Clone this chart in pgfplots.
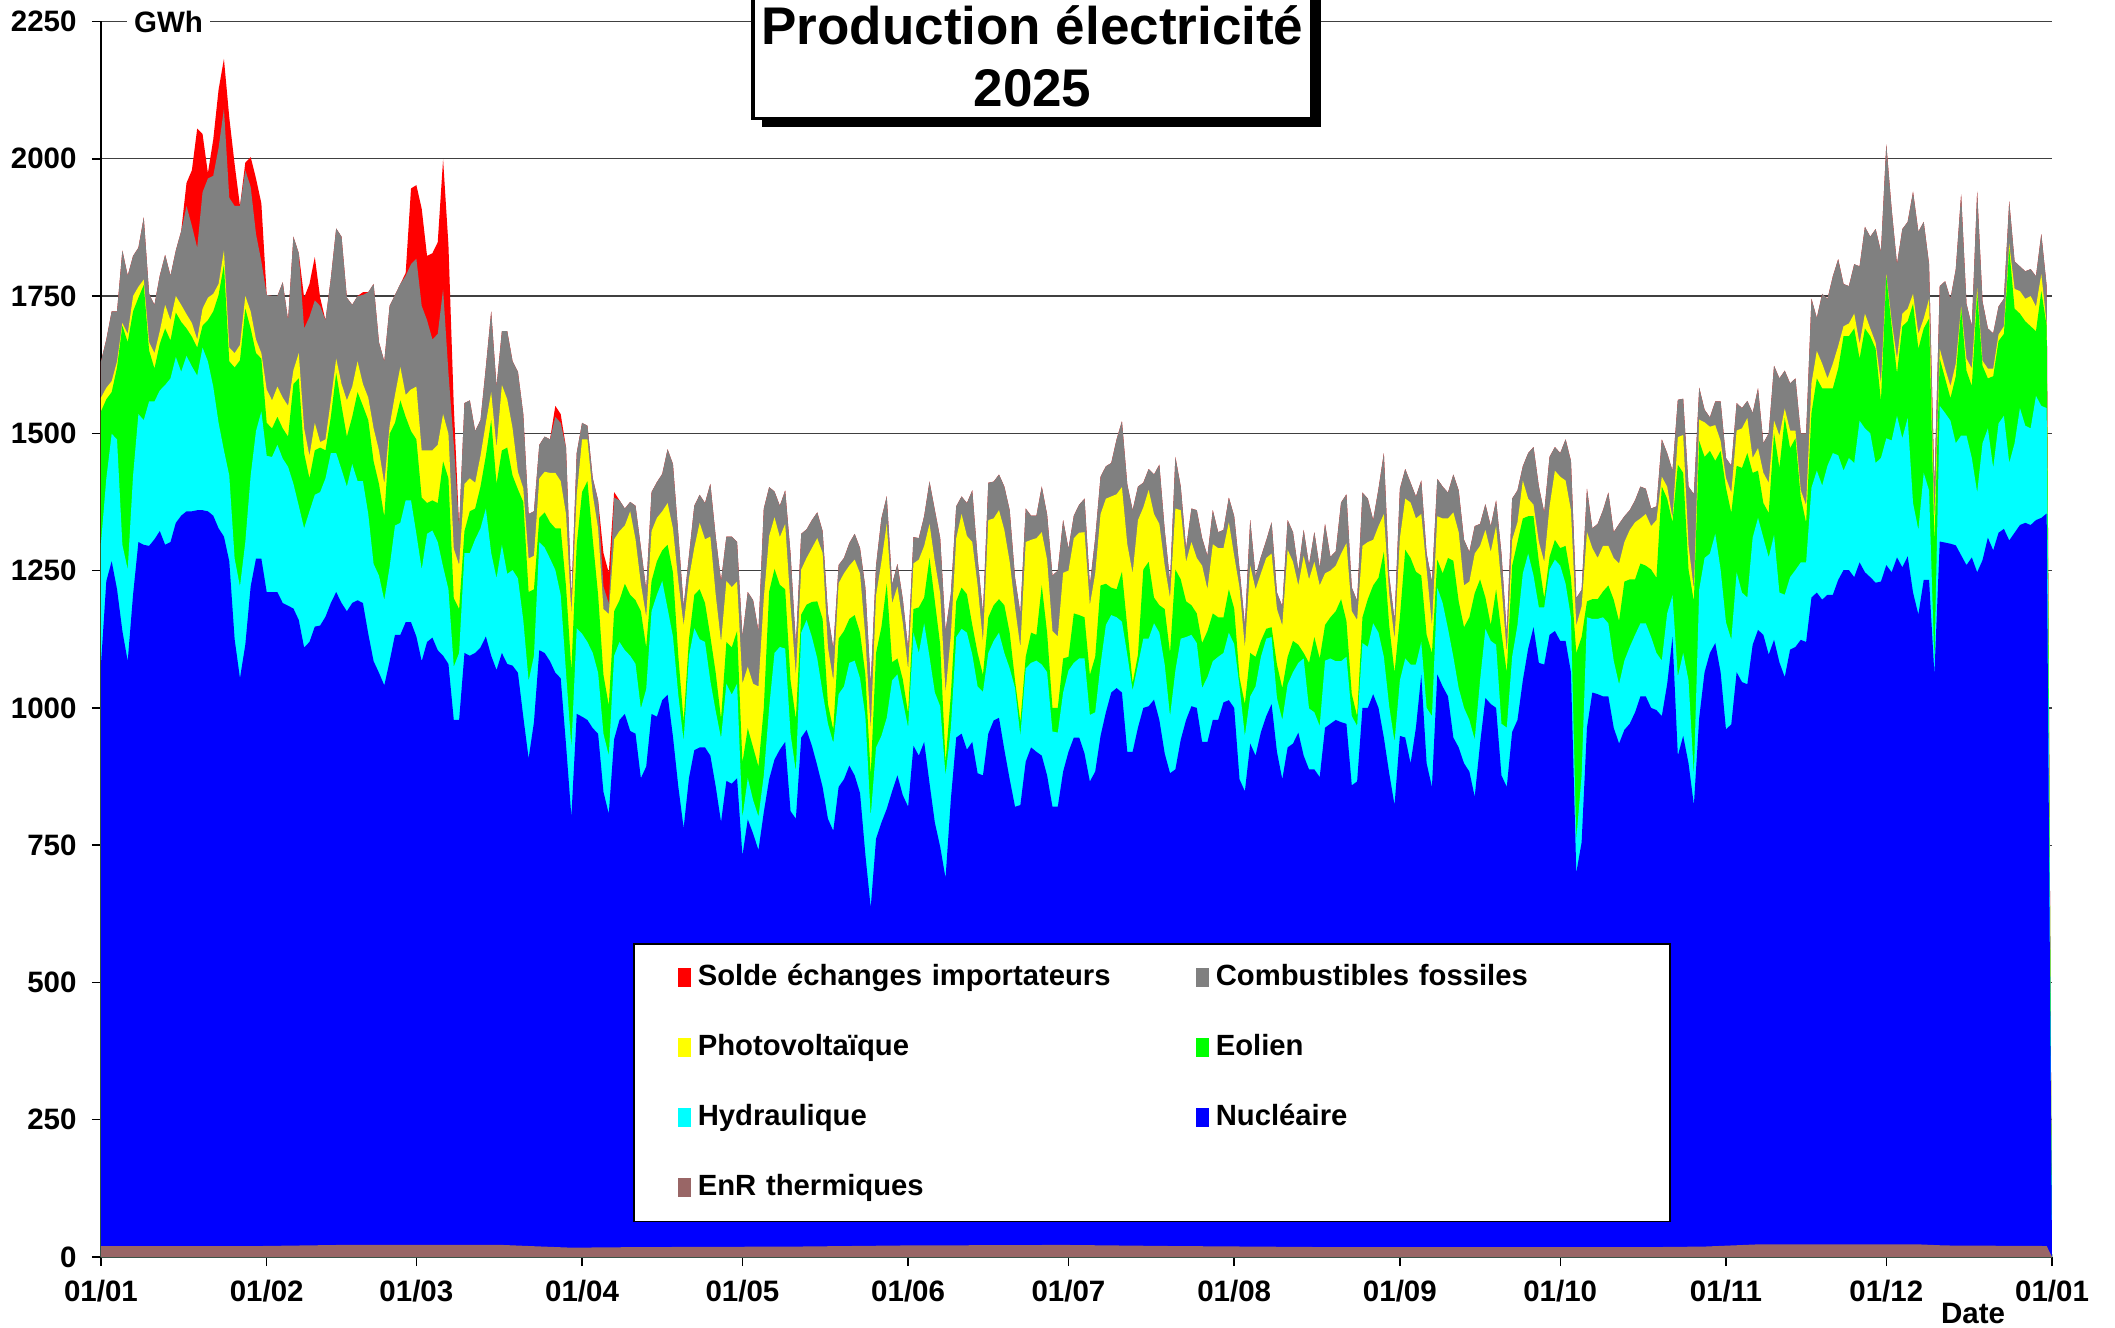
\documentclass[border=0pt]{standalone}
\usepackage{fontspec}
\setmainfont{Liberation Sans}
\usepackage{pgfplots}
\usepackage{pgfplotstable}
\pgfplotsset{compat=1.18}
\definecolor{cImp}{HTML}{FF0000}
\definecolor{cFos}{HTML}{808080}
\definecolor{cPV}{HTML}{FFFF00}
\definecolor{cEol}{HTML}{00FF00}
\definecolor{cHyd}{HTML}{00FFFF}
\definecolor{cNuc}{HTML}{0000FF}
\definecolor{cEnR}{HTML}{996666}
% cumulative tops of the stacked layers (GWh), day 0 = 01/01/2025
\pgfplotstableread{
d N H W S F I
0 1080 1300 1540 1565 1631 1631
1 1231 1418 1562 1583 1671 1671
2 1267 1499 1575 1595 1722 1722
3 1216 1489 1620 1631 1722 1722
4 1140 1297 1696 1701 1833 1833
5 1085 1252 1666 1681 1787 1787
6 1206 1423 1722 1750 1823 1823
7 1302 1535 1747 1767 1838 1838
8 1297 1524 1770 1780 1893 1893
9 1295 1558 1651 1666 1754 1754
10 1307 1558 1618 1646 1734 1734
11 1322 1578 1663 1686 1787 1787
12 1297 1588 1691 1734 1825 1825
13 1302 1600 1669 1706 1787 1787
14 1337 1639 1720 1750 1833 1833
15 1350 1612 1703 1734 1868 1868
16 1358 1641 1691 1717 1914 1956
17 1358 1622 1676 1701 1878 1979
18 1360 1605 1656 1671 1838 2055
19 1360 1656 1696 1727 1939 2045
20 1358 1631 1706 1747 1964 1974
21 1350 1585 1722 1754 1969 2035
22 1327 1519 1752 1772 2020 2126
23 1312 1469 1807 1833 2091 2182
24 1267 1423 1631 1656 1929 2075
25 1125 1272 1620 1646 1914 1990
26 1054 1221 1633 1661 1914 1914
27 1115 1302 1727 1750 1979 1993
28 1221 1423 1691 1722 1949 2003
29 1272 1504 1646 1671 1863 1964
30 1272 1540 1636 1646 1813 1919
31 1211 1459 1519 1580 1752 1752
32 1211 1457 1509 1560 1750 1750
33 1211 1479 1530 1585 1750 1750
34 1191 1454 1509 1565 1775 1775
35 1186 1439 1494 1550 1706 1706
36 1181 1408 1590 1615 1858 1858
37 1160 1368 1600 1646 1828 1828
38 1110 1327 1464 1509 1691 1747
39 1120 1358 1418 1459 1712 1772
40 1148 1388 1469 1519 1742 1821
41 1150 1393 1474 1484 1732 1747
42 1166 1418 1469 1489 1706 1706
43 1191 1464 1530 1560 1782 1782
44 1211 1464 1610 1636 1873 1873
45 1191 1434 1550 1590 1858 1858
46 1176 1403 1494 1560 1747 1747
47 1191 1444 1530 1585 1734 1734
48 1196 1413 1575 1631 1750 1750
49 1191 1413 1550 1590 1752 1757
50 1135 1353 1524 1565 1757 1757
51 1085 1262 1449 1509 1772 1772
52 1064 1241 1408 1469 1666 1666
53 1041 1196 1348 1408 1631 1631
54 1085 1257 1499 1514 1732 1732
55 1133 1332 1519 1570 1752 1752
56 1133 1337 1560 1621 1772 1772
57 1156 1378 1530 1570 1787 1792
58 1156 1378 1504 1580 1808 1946
59 1130 1317 1489 1585 1818 1952
60 1085 1252 1383 1469 1732 1909
61 1120 1317 1373 1469 1706 1823
62 1128 1323 1378 1469 1671 1828
63 1105 1302 1373 1479 1681 1848
64 1095 1257 1449 1535 1762 1999
65 1080 1216 1418 1499 1610 1843
66 978 1075 1200 1290 1480 1550
67 978 1100 1180 1260 1330 1330
68 1100 1282 1322 1408 1555 1555
69 1095 1282 1358 1418 1560 1560
70 1100 1307 1363 1410 1504 1504
71 1110 1327 1403 1459 1524 1524
72 1130 1363 1459 1519 1620 1620
73 1095 1282 1524 1575 1722 1722
74 1069 1236 1408 1474 1585 1585
75 1100 1297 1469 1588 1686 1686
76 1080 1244 1474 1562 1686 1686
77 1077 1251 1423 1509 1631 1631
78 1064 1236 1398 1430 1612 1612
79 984 1160 1375 1400 1535 1535
80 908 1049 1211 1272 1353 1353
81 974 1095 1216 1277 1358 1358
82 1105 1302 1346 1418 1479 1479
83 1100 1292 1356 1430 1494 1494
84 1085 1272 1338 1428 1489 1489
85 1064 1251 1327 1428 1530 1550
86 1054 1206 1327 1413 1519 1535
87 933 1064 1221 1353 1474 1474
88 802 928 1069 1171 1200 1200
89 989 1145 1297 1388 1464 1464
90 984 1135 1393 1489 1519 1519
91 978 1120 1413 1489 1514 1514
92 963 1100 1307 1388 1418 1418
93 953 1064 1206 1327 1378 1378
94 847 953 1060 1180 1221 1282
95 807 913 1004 1171 1190 1246
96 943 1095 1176 1307 1383 1393
97 978 1120 1196 1322 1378 1378
98 989 1105 1226 1332 1363 1363
99 958 1095 1206 1358 1375 1375
100 953 1080 1196 1307 1368 1368
101 872 999 1176 1226 1292 1292
102 893 1034 1110 1166 1215 1215
103 989 1176 1231 1322 1393 1393
104 984 1206 1267 1346 1411 1411
105 1014 1231 1287 1358 1426 1426
106 1024 1181 1297 1373 1471 1471
107 948 1130 1247 1327 1444 1444
108 857 1024 1095 1231 1317 1317
109 781 940 975 1150 1185 1185
110 872 1095 1125 1236 1277 1277
111 923 1145 1206 1292 1368 1368
112 928 1125 1216 1337 1388 1388
113 928 1120 1191 1307 1373 1373
114 913 1049 1130 1312 1408 1408
115 857 994 1064 1206 1312 1312
116 792 945 980 1120 1231 1231
117 867 1044 1120 1231 1312 1312
118 862 1024 1110 1220 1312 1312
119 872 1044 1140 1230 1302 1302
120 731 800 900 1044 1130 1130
121 797 872 963 1075 1211 1211
122 771 832 928 1044 1196 1196
123 741 802 893 1039 1140 1140
124 810 877 1000 1200 1363 1363
125 870 1000 1212 1313 1402 1402
126 906 1100 1253 1347 1394 1394
127 924 1111 1224 1311 1368 1368
128 938 1108 1216 1335 1396 1396
129 812 953 1050 1187 1281 1281
130 798 884 980 1060 1115 1115
131 946 1137 1170 1252 1317 1317
132 960 1160 1188 1273 1325 1325
133 931 1129 1193 1291 1342 1342
134 895 1090 1194 1309 1356 1356
135 856 1028 1162 1282 1322 1322
136 798 971 1007 1110 1172 1172
137 776 936 960 1050 1108 1108
138 856 1025 1126 1227 1260 1260
139 870 1039 1140 1245 1273 1273
140 895 1082 1162 1259 1300 1300
141 877 1086 1169 1270 1317 1317
142 845 1054 1137 1245 1291 1291
143 733 985 1061 1129 1219 1219
144 636 802 877 960 1043 1043
145 762 928 1100 1205 1259 1259
146 791 949 1147 1266 1345 1345
147 816 982 1226 1335 1385 1385
148 848 1050 1083 1190 1225 1225
149 877 1061 1090 1221 1262 1262
150 841 1013 1052 1155 1198 1198
151 820 964 990 1070 1108 1108
152 931 1137 1180 1263 1311 1311
153 913 1100 1183 1270 1309 1309
154 938 1154 1201 1295 1349 1349
155 863 1093 1273 1335 1412 1412
156 791 1028 1194 1266 1360 1360
157 747 1003 1115 1208 1309 1309
158 690 877 900 1028 1140 1140
159 834 964 1025 1133 1208 1208
160 946 1129 1194 1309 1367 1367
161 953 1144 1219 1353 1385 1385
162 924 1137 1207 1313 1373 1373
163 938 1097 1151 1302 1396 1396
164 881 1039 1100 1223 1273 1273
165 877 1029 1060 1120 1172 1172
166 953 1100 1165 1342 1410 1410
167 977 1122 1187 1345 1412 1412
168 982 1137 1198 1360 1425 1425
169 924 1100 1187 1324 1403 1403
170 870 1072 1137 1266 1360 1360
171 820 1036 1050 1183 1237 1237
172 823 949 974 1110 1172 1172
173 902 1072 1093 1302 1363 1363
174 928 1082 1137 1306 1350 1350
175 920 1086 1133 1309 1350 1350
176 913 1079 1223 1320 1403 1403
177 877 1065 1137 1270 1352 1352
178 820 957 1000 1140 1241 1241
179 820 955 1000 1130 1250 1250
180 884 1028 1090 1246 1342 1342
181 920 1068 1093 1250 1290 1290
182 946 1082 1172 1309 1350 1350
183 946 1090 1169 1319 1370 1370
184 917 1090 1165 1320 1381 1381
185 866 987 1060 1187 1223 1223
186 884 992 1093 1245 1309 1309
187 949 1079 1223 1353 1421 1421
188 992 1151 1226 1381 1440 1440
189 1028 1169 1219 1385 1446 1446
190 1036 1165 1216 1389 1489 1489
191 1028 1157 1248 1402 1522 1522
192 920 1097 1147 1298 1407 1407
193 920 1032 1045 1245 1360 1360
194 964 1079 1097 1342 1403 1403
195 1000 1126 1252 1365 1410 1410
196 1003 1126 1266 1397 1435 1435
197 1015 1154 1201 1353 1425 1425
198 978 1137 1187 1335 1443 1443
199 917 1079 1180 1259 1324 1324
200 881 985 1100 1200 1230 1230
201 888 1068 1252 1363 1457 1457
202 942 1126 1234 1360 1403 1403
203 978 1129 1194 1266 1290 1290
204 1003 1133 1187 1302 1363 1363
205 1000 1118 1172 1273 1360 1360
206 938 1036 1118 1259 1309 1309
207 938 1056 1140 1216 1277 1277
208 978 1085 1172 1298 1360 1360
209 978 1093 1165 1291 1320 1320
210 1010 1100 1165 1291 1324 1324
211 1014 1137 1216 1338 1383 1383
212 1000 1116 1181 1277 1349 1349
213 870 1039 1055 1219 1253 1253
214 848 949 1007 1110 1150 1150
215 935 1021 1100 1259 1342 1342
216 913 1039 1093 1216 1240 1240
217 956 1093 1122 1245 1275 1275
218 985 1126 1144 1273 1305 1305
219 1007 1129 1147 1281 1338 1338
220 920 1018 1079 1180 1210 1210
221 870 978 1036 1150 1185 1185
222 928 1043 1093 1288 1342 1342
223 935 1065 1122 1266 1320 1320
224 955 1082 1115 1223 1250 1250
225 913 1090 1100 1277 1324 1324
226 888 999 1082 1234 1260 1260
227 888 992 1129 1266 1320 1320
228 874 967 1090 1223 1255 1255
229 964 1086 1151 1245 1335 1335
230 971 1090 1165 1250 1275 1275
231 978 1085 1176 1259 1285 1285
232 974 1085 1198 1281 1374 1374
233 971 1093 1158 1300 1389 1389
234 859 985 1025 1176 1219 1219
235 866 967 985 1160 1195 1195
236 1000 1118 1165 1295 1392 1392
237 1000 1111 1198 1302 1381 1381
238 1025 1154 1223 1306 1342 1342
239 1000 1137 1237 1331 1399 1399
240 946 1093 1284 1353 1464 1464
241 881 1003 1150 1208 1240 1240
242 823 938 1064 1125 1160 1160
243 949 1050 1165 1309 1399 1399
244 946 1090 1288 1381 1435 1435
245 899 1079 1273 1374 1410 1410
246 964 1079 1248 1345 1385 1385
247 1060 1120 1241 1353 1414 1414
248 899 1000 1133 1252 1281 1281
249 856 985 1100 1150 1230 1230
250 1061 1219 1270 1349 1417 1417
251 1039 1191 1245 1345 1403 1403
252 1021 1144 1273 1345 1392 1392
253 946 1093 1268 1356 1425 1425
254 928 1036 1194 1320 1396 1396
255 899 1000 1147 1223 1306 1306
256 884 978 1165 1230 1284 1284
257 838 942 1209 1281 1331 1331
258 935 1050 1234 1295 1335 1335
259 1018 1144 1201 1324 1371 1371
260 1007 1122 1151 1284 1331 1331
261 1000 1115 1216 1331 1378 1378
262 877 971 1137 1223 1281 1281
263 856 964 1064 1100 1135 1135
264 956 1093 1259 1306 1381 1381
265 978 1151 1302 1338 1396 1396
266 1050 1245 1345 1414 1440 1440
267 1108 1281 1349 1381 1464 1464
268 1147 1241 1349 1370 1475 1475
269 1082 1183 1266 1302 1403 1403
270 1079 1183 1200 1266 1356 1356
271 1133 1252 1275 1367 1457 1457
272 1140 1270 1306 1432 1475 1475
273 1122 1259 1291 1421 1464 1464
274 1122 1226 1295 1414 1489 1489
275 1065 1165 1237 1360 1450 1450
276 700 760 1100 1150 1200 1200
277 755 877 1129 1185 1215 1215
278 964 1165 1194 1320 1399 1399
279 1028 1162 1198 1291 1327 1327
280 1025 1162 1198 1273 1335 1335
281 1021 1165 1212 1295 1360 1360
282 1021 1154 1223 1295 1392 1392
283 964 1086 1197 1273 1320 1320
284 935 1043 1158 1263 1335 1335
285 960 1086 1230 1302 1349 1349
286 971 1111 1234 1324 1360 1360
287 992 1133 1234 1338 1378 1378
288 1021 1154 1263 1345 1403 1403
289 1021 1154 1259 1353 1399 1399
290 1000 1129 1252 1331 1363 1363
291 996 1100 1237 1342 1367 1367
292 985 1086 1403 1421 1489 1489
293 1043 1172 1381 1403 1464 1464
294 1129 1205 1338 1345 1432 1432
295 913 1057 1443 1493 1561 1561
296 949 1100 1428 1497 1563 1563
297 899 1050 1252 1295 1403 1403
298 823 877 1194 1216 1389 1389
299 982 1216 1486 1525 1583 1583
300 1065 1273 1457 1520 1543 1543
301 1100 1281 1468 1512 1529 1529
302 1118 1317 1450 1515 1558 1558
303 1065 1252 1468 1486 1558 1558
304 961 1156 1401 1419 1455 1455
305 970 1124 1355 1392 1441 1441
306 1065 1247 1441 1505 1555 1555
307 1047 1210 1437 1509 1546 1546
308 1043 1201 1464 1528 1559 1559
309 1115 1310 1428 1455 1537 1537
310 1142 1346 1432 1473 1582 1582
311 1133 1310 1373 1428 1482 1482
312 1097 1274 1355 1410 1500 1500
313 1124 1315 1500 1523 1623 1623
314 1083 1210 1437 1496 1600 1600
315 1056 1206 1528 1545 1614 1614
316 1106 1238 1473 1505 1591 1591
317 1111 1251 1491 1505 1600 1600
318 1124 1265 1383 1396 1500 1500
319 1120 1265 1337 1369 1500 1500
320 1201 1401 1537 1591 1745 1745
321 1210 1432 1600 1650 1710 1710
322 1197 1405 1582 1627 1754 1754
323 1206 1441 1582 1600 1745 1745
324 1206 1464 1582 1627 1786 1786
325 1233 1460 1618 1659 1817 1817
326 1251 1432 1677 1695 1772 1772
327 1251 1455 1677 1700 1768 1768
328 1238 1446 1691 1718 1808 1808
329 1265 1523 1636 1663 1804 1804
330 1247 1509 1691 1718 1876 1876
331 1238 1500 1677 1691 1858 1858
332 1228 1446 1654 1665 1872 1872
333 1230 1455 1559 1591 1831 1831
334 1260 1491 1786 1790 2026 2026
335 1247 1487 1695 1705 1908 1908
336 1274 1532 1609 1636 1808 1808
337 1256 1491 1695 1718 1872 1872
338 1276 1528 1704 1727 1885 1885
339 1210 1373 1736 1754 1940 1940
340 1170 1324 1654 1681 1867 1867
341 1233 1428 1691 1709 1885 1885
342 1233 1396 1709 1745 1808 1808
343 1061 1080 1300 1340 1400 1400
344 1303 1550 1636 1654 1768 1768
345 1301 1537 1600 1618 1777 1777
346 1299 1523 1564 1586 1745 1745
347 1296 1482 1604 1627 1799 1799
348 1278 1496 1727 1731 1935 1935
349 1260 1496 1614 1636 1736 1736
350 1274 1455 1586 1618 1695 1695
351 1247 1392 1754 1765 1940 1940
352 1269 1482 1623 1632 1740 1740
353 1310 1509 1600 1618 1691 1691
354 1287 1437 1604 1618 1682 1682
355 1319 1518 1668 1680 1731 1731
356 1326 1532 1681 1695 1745 1745
357 1305 1446 1836 1845 1922 1922
358 1319 1482 1727 1763 1813 1813
359 1333 1546 1718 1759 1804 1804
360 1337 1514 1704 1745 1795 1795
361 1333 1509 1695 1750 1799 1799
362 1342 1568 1686 1731 1786 1786
363 1346 1550 1759 1790 1863 1863
364 1354 1546 1695 1700 1768 1768
365 0 0 0 0 0 0
}\prodtable
\pgfplotstableread{
d E
0 20
30 20
45 22
75 22
80 20
88 17
100 18
130 19
150 21
180 22
200 20
230 18
290 18
300 19
310 23
340 23
345 21
364 20
365 0
}\enrtable
\newcommand{\tfont}{\fontsize{11.8}{13}\selectfont\bfseries}
\begin{document}
\begin{tikzpicture}
\useasboundingbox (-40.4pt,-28pt) rectangle (805.6pt,502.8pt);
\begin{axis}[
  at={(0pt,0pt)}, anchor=south west,
  scale only axis, width=780.4pt, height=494.2pt,
  xmin=0, xmax=365, ymin=0, ymax=2250,
  axis x line*=bottom, axis y line*=left,
  axis line style={black, line width=0.7pt},
  xtick={0,31,59,90,120,151,181,212,243,273,304,334,365},
  xticklabels={01/01,01/02,01/03,01/04,01/05,01/06,01/07,01/08,01/09,01/10,01/11,01/12,01/01},
  ytick={0,250,500,750,1000,1250,1500,1750,2000,2250},
  yticklabels={0,250,500,750,1000,1250,1500,1750,2000,2250},
  tick align=outside, major tick length=3.6pt,
  tick style={black, line width=0.6pt},
  ymajorgrids, grid style={black!75, line width=0.5pt},
  ticklabel style={font=\tfont},
  xticklabel style={anchor=base, yshift=-14pt},
  yticklabel style={anchor=east, inner xsep=0pt, xshift=-6pt},
  legend columns=2,
  legend cell align=left,
  legend style={at={(0.2727,0.2541)}, anchor=north west, draw=black, line width=0.6pt,
    fill=white, inner xsep=0pt, inner ysep=8pt, column sep=0pt, row sep=17pt,
    font=\fontsize{11.7}{13}\selectfont\bfseries,
    nodes={text width=181.6pt, text height=8.5pt, text depth=2.5pt, inner sep=0pt, align=left}},
  legend image code/.code={\path (-17.6pt,0pt) (8pt,0pt); \fill[#1] (0pt,-3.6pt) rectangle (5.4pt,3.8pt);},
]
\addplot[fill=cImp, draw=none] table[x=d, y=I] {\prodtable} \closedcycle;
\addlegendentry{Solde échanges importateurs}
\addplot[fill=cFos, draw=none] table[x=d, y=F] {\prodtable} \closedcycle;
\addlegendentry{Combustibles fossiles}
\addplot[fill=cPV, draw=none] table[x=d, y=S] {\prodtable} \closedcycle;
\addlegendentry{Photovoltaïque}
\addplot[fill=cEol, draw=none] table[x=d, y=W] {\prodtable} \closedcycle;
\addlegendentry{Eolien}
\addplot[fill=cHyd, draw=none] table[x=d, y=H] {\prodtable} \closedcycle;
\addlegendentry{Hydraulique}
\addplot[fill=cNuc, draw=none] table[x=d, y=N] {\prodtable} \closedcycle;
\addlegendentry{Nucléaire}
\addplot[fill=cEnR, draw=none] table[x=d, y=E] {\enrtable} \closedcycle;
\addlegendentry{EnR thermiques}
\end{axis}
% title box with shadow
\fill[black] (264.3pt,451.8pt) rectangle (487.9pt,520pt);
\filldraw[fill=white, draw=black, line width=1.4pt] (260.8pt,455.3pt) rectangle (484.4pt,520pt);
\node[anchor=base, font=\fontsize{21.2}{24}\selectfont\bfseries, inner sep=0pt] at (372.6pt,484.8pt) {Production électricité};
\node[anchor=base, font=\fontsize{21.2}{24}\selectfont\bfseries, inner sep=0pt] at (372.6pt,460pt) {2025};
% unit and axis name
\node[fill=white, inner xsep=3pt, inner ysep=1.5pt, font=\tfont] at (27pt,494.2pt) {GWh};
\node[anchor=base, inner sep=0pt, font=\tfont] at (748.8pt,-26.4pt) {Date};
\end{tikzpicture}
\end{document}
